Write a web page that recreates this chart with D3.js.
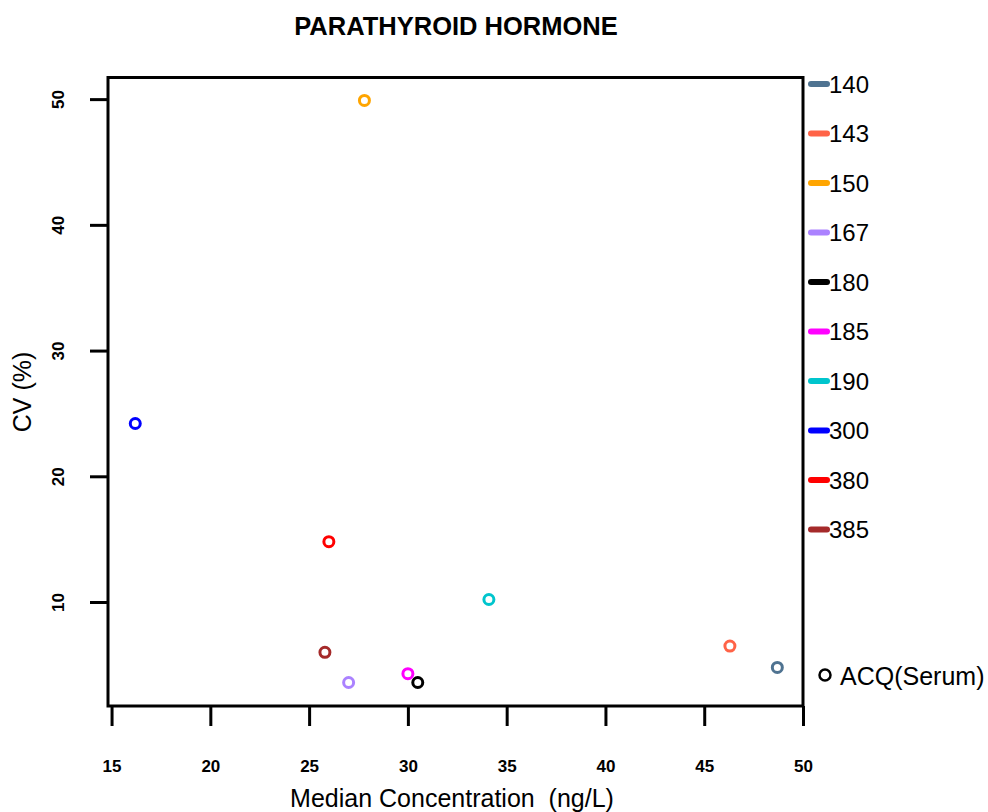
<!DOCTYPE html>
<html>
<head>
<meta charset="utf-8">
<script src="https://cdn.jsdelivr.net/npm/d3@7"></script>
<style>
  html, body { margin: 0; padding: 0; background: #fff; }
  svg { display: block; font-family: "Liberation Sans", Arial, sans-serif; }
</style>
</head>
<body>
<svg id="chart" width="988" height="812"></svg>
<script>
// Instrument groups and their measurements
const instruments = ["140", "143", "150", "167", "180", "185", "190", "300", "380", "385"];
const colors = ["#4F7391", "#FF6347", "#FFA500", "#AB82FF", "#000000", "#FF00FF", "#00C5CD", "#0000FF", "#FF0000", "#A52A2A"];
const medianConc = [48.7, 46.3, 27.8, 27.0, 30.5, 30.0, 34.1, 16.2, 26.0, 25.8];
const cvPercent = [4.8, 6.5, 49.9, 3.6, 3.6, 4.3, 10.2, 24.2, 14.8, 6.0];
const xTicks = [15, 20, 25, 30, 35, 40, 45, 50];
const yTicks = [10, 20, 30, 40, 50];

const svg = d3.select("#chart");
const FONT = "Liberation Sans, Arial, sans-serif";

const x = d3.scaleLinear().domain([14.82, 50]).range([108, 803]);
const y = d3.scaleLinear().domain([1.73, 51.72]).range([706, 77.5]);

// Plot frame
svg.append("rect")
  .attr("x", x.range()[0]).attr("y", y.range()[1])
  .attr("width", x.range()[1] - x.range()[0])
  .attr("height", y.range()[0] - y.range()[1])
  .attr("fill", "none").attr("stroke", "#000").attr("stroke-width", 3);

// X axis
const xAxis = svg.append("g")
  .attr("transform", `translate(0,${y.range()[0]})`)
  .call(d3.axisBottom(x).tickValues(xTicks).tickSize(20).tickSizeOuter(0));
xAxis.select(".domain").remove();
xAxis.selectAll(".tick line").attr("stroke-width", 3);
xAxis.selectAll(".tick text")
  .attr("y", 66).attr("dy", null)
  .attr("font-size", 17).attr("font-weight", "bold").attr("fill", "#000")
  .attr("font-family", FONT);

// Y axis
const yAxis = svg.append("g")
  .attr("transform", `translate(${x.range()[0]},0)`)
  .call(d3.axisLeft(y).tickValues(yTicks).tickSize(18).tickSizeOuter(0));
yAxis.select(".domain").remove();
yAxis.selectAll(".tick line").attr("stroke-width", 3);
yAxis.selectAll(".tick text")
  .attr("x", null).attr("dy", null)
  .attr("transform", "translate(-48,0) rotate(-90)")
  .attr("text-anchor", "middle").attr("dominant-baseline", "middle")
  .attr("font-size", 17).attr("font-weight", "bold").attr("fill", "#000")
  .attr("font-family", FONT);

// Points
svg.append("g").selectAll("circle")
  .data(instruments)
  .join("circle")
  .attr("cx", (d, i) => x(medianConc[i]))
  .attr("cy", (d, i) => y(cvPercent[i]))
  .attr("r", 5)
  .attr("fill", "none")
  .attr("stroke", (d, i) => colors[i])
  .attr("stroke-width", 3);

// Titles
svg.append("text")
  .attr("x", 456).attr("y", 35)
  .attr("text-anchor", "middle")
  .attr("font-size", 25.5).attr("font-weight", "bold")
  .text("PARATHYROID HORMONE");

svg.append("text")
  .attr("x", 452).attr("y", 807)
  .attr("text-anchor", "middle")
  .attr("font-size", 25)
  .style("white-space", "pre")
  .text("Median Concentration  (ng/L)");

svg.append("text")
  .attr("transform", "translate(31,392) rotate(-90)")
  .attr("text-anchor", "middle")
  .attr("font-size", 25)
  .text("CV (%)");

// Legend
const legend = svg.append("g");
const legendItems = legend.selectAll("g")
  .data(instruments)
  .join("g")
  .attr("transform", (d, i) => `translate(0,${84 + i * 49.5})`);
legendItems.append("line")
  .attr("x1", 811).attr("x2", 827)
  .attr("stroke", (d, i) => colors[i])
  .attr("stroke-width", 6)
  .attr("stroke-linecap", "round");
legendItems.append("text")
  .attr("x", 829).attr("y", 0)
  .attr("dominant-baseline", "central")
  .attr("font-size", 24)
  .text(d => d);

legend.append("circle")
  .attr("cx", 825).attr("cy", 675).attr("r", 5.5)
  .attr("fill", "none").attr("stroke", "#000").attr("stroke-width", 2.5);
legend.append("text")
  .attr("x", 840).attr("y", 676)
  .attr("dominant-baseline", "central")
  .attr("font-size", 25)
  .text("ACQ(Serum)");
</script>
</body>
</html>
